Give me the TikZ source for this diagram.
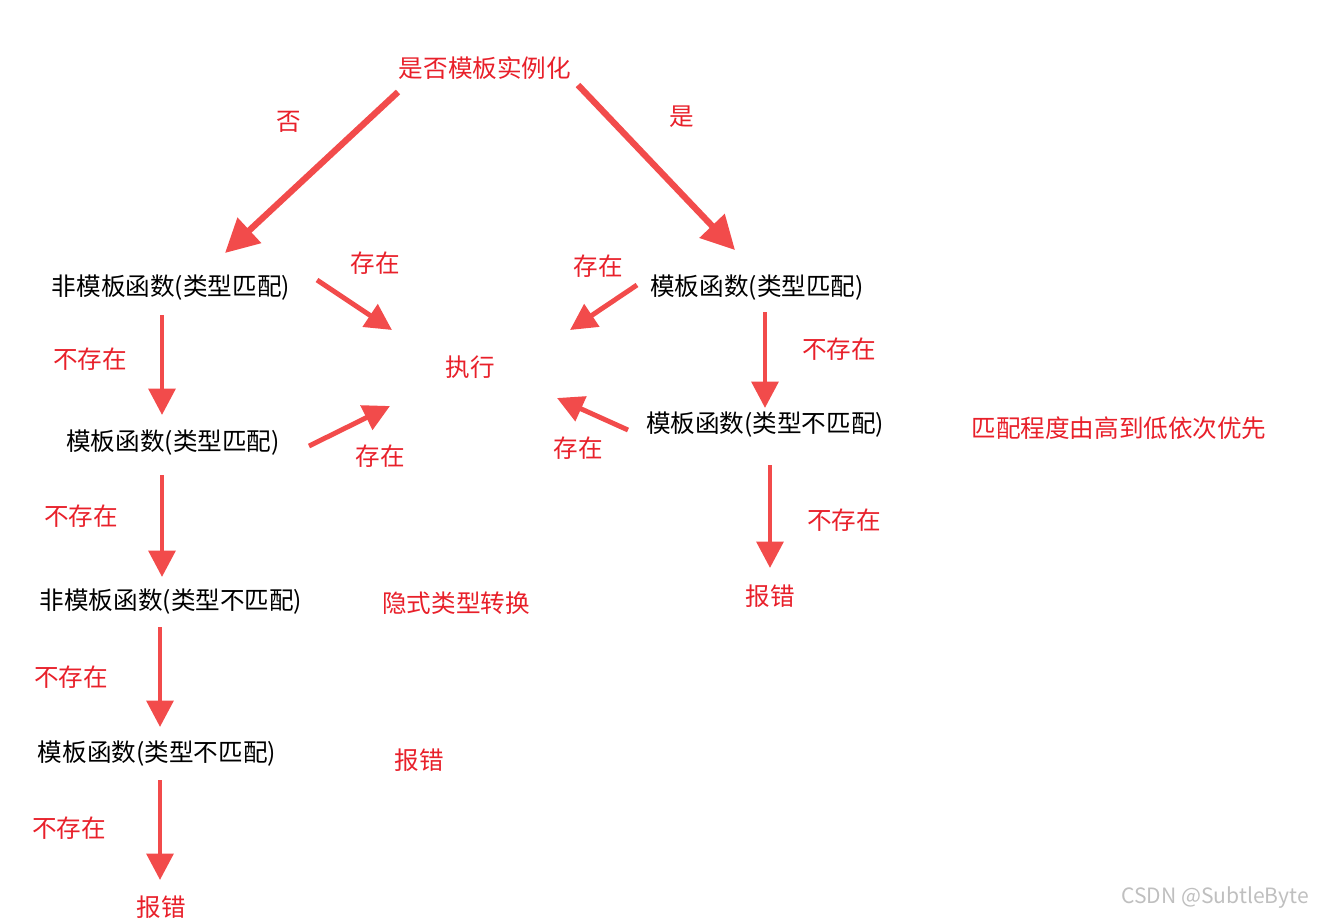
\documentclass[tikz,border=0pt]{standalone}
\usepackage{fontspec}
\setmainfont{Noto Sans CJK SC}
\usetikzlibrary{arrows.meta}
\definecolor{ared}{HTML}{F24B4B}
\definecolor{tred}{HTML}{E8202A}
\begin{document}
\begin{tikzpicture}[x=0.02cm,y=-0.02cm,
  lab/.style={font=\fontsize{14}{16}\selectfont,inner sep=0pt},
  blk/.style={lab,text=black},
  rd/.style={lab,text=tred},
  arr/.style={draw=ared,line width=2.8pt,-{Triangle[length=15pt,width=15pt]}},
  big/.style={arr,line width=3.6pt,-{Triangle[length=19pt,width=19pt]}}]
\useasboundingbox (0,0) rectangle (1326,921);
\node[rd] (q) at (485,68) {是否模板实例化};
\node[rd] (no) at (289,122) {否};
\node[rd] (yes) at (682,117) {是};
\node[blk] (a1) at (171,288) {非模板函数(类型匹配)};
\node[blk] (b1) at (757,288) {模板函数(类型匹配)};
\node[rd] (e1) at (375,263) {存在};
\node[rd] (e2) at (598,266) {存在};
\node[rd] (run) at (470,367) {执行};
\node[rd] (n1) at (90,359) {不存在};
\node[blk] (a2) at (173,443) {模板函数(类型匹配)};
\node[rd] (e3) at (380,456) {存在};
\node[rd] (n2) at (839,349) {不存在};
\node[blk] (b2) at (765,425) {模板函数(类型不匹配)};
\node[rd] (e4) at (578,448) {存在};
\node[rd] (pri) at (1119,428) {匹配程度由高到低依次优先};
\node[rd] (n3) at (81,516) {不存在};
\node[rd] (n4) at (844,520) {不存在};
\node[rd] (err1) at (770,596) {报错};
\node[blk] (a3) at (171,602) {非模板函数(类型不匹配)};
\node[rd] (imp) at (456,603) {隐式类型转换};
\node[rd] (n5) at (71,677) {不存在};
\node[blk] (a4) at (157,754) {模板函数(类型不匹配)};
\node[rd] (err2) at (419,760) {报错};
\node[rd] (n6) at (69,828) {不存在};
\node[rd] (err3) at (161,907) {报错};
\node[lab,text=black!25,font=\fontsize{12}{14}\selectfont] (wm) at (1215,898) {CSDN @SubtleByte};
\coordinate (s1) at (398,92); \coordinate (t1) at (225,253);
\coordinate (s2) at (578,85); \coordinate (t2) at (735,250);
\coordinate (s3) at (317,280); \coordinate (t3) at (392,330);
\coordinate (s4) at (637,285); \coordinate (t4) at (570,330);
\coordinate (s5) at (162,315); \coordinate (t5) at (162,415);
\coordinate (s6) at (309,446); \coordinate (t6) at (390,406);
\coordinate (s7) at (765,312); \coordinate (t7) at (765,408);
\coordinate (s8) at (628,430); \coordinate (t8) at (557,398);
\coordinate (s9) at (162,475); \coordinate (t9) at (162,577);
\coordinate (s10) at (770,465); \coordinate (t10) at (770,568);
\coordinate (s11) at (160,627); \coordinate (t11) at (160,727);
\coordinate (s12) at (160,780); \coordinate (t12) at (160,880);
\draw[big] (s1) -- (t1);
\draw[big] (s2) -- (t2);
\foreach \i in {3,...,12} {\draw[arr] (s\i) -- (t\i);}
\end{tikzpicture}
\end{document}
